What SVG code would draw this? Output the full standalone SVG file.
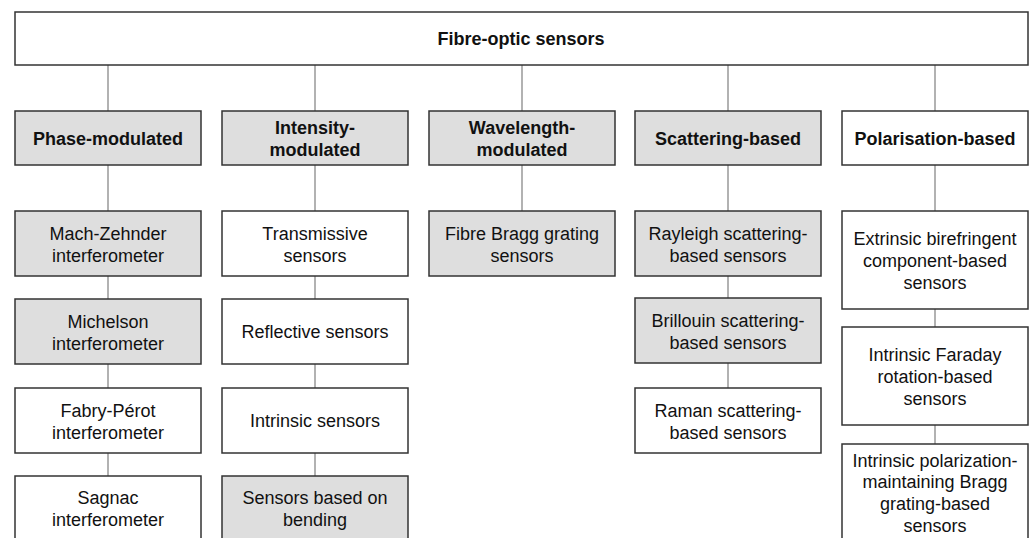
<svg xmlns="http://www.w3.org/2000/svg" width="1032" height="538" viewBox="0 0 1032 538">
<style>
.b{stroke:#333;stroke-width:1.5}
.w{fill:#fff}
.g{fill:#dedede}
.t{font-family:"Liberation Sans",Arial,sans-serif;font-size:18px;fill:#111;text-anchor:middle}
.h{font-weight:bold}
.c{stroke:#999;stroke-width:1.5;fill:none}
</style>
<rect width="1032" height="538" fill="#fff"/>
<g id="connectors">
<path class="c" d="M108 65V111M315 65V111M522 65V111M728 65V111M935 65V111"/>
<path class="c" d="M108 165V211M108 276V299M108 364V388M108 453V476"/>
<path class="c" d="M315 165V211M315 276V299M315 364V388M315 453V476"/>
<path class="c" d="M522 165V211"/>
<path class="c" d="M728 165V211M728 276V298M728 363V388"/>
<path class="c" d="M935 165V211M935 309V327M935 425V444"/>
</g>
<g id="root"><rect class="b w" x="15" y="12" width="1013" height="53"/><text class="t h" x="521" y="45">Fibre-optic sensors</text></g>
<g id="phase"><rect class="b g" x="15" y="111" width="186" height="54"/><text class="t h" x="108" y="145">Phase-modulated</text></g>
<g id="intensity"><rect class="b g" x="222" y="111" width="186" height="54"/><text class="t h" x="315" y="134">Intensity-</text><text class="t h" x="315" y="156">modulated</text></g>
<g id="wavelength"><rect class="b g" x="429" y="111" width="186" height="54"/><text class="t h" x="522" y="134">Wavelength-</text><text class="t h" x="522" y="156">modulated</text></g>
<g id="scattering"><rect class="b g" x="635" y="111" width="186" height="54"/><text class="t h" x="728" y="145">Scattering-based</text></g>
<g id="polarisation"><rect class="b w" x="842" y="111" width="186" height="54"/><text class="t h" x="935" y="145">Polarisation-based</text></g>

<g id="mach"><rect class="b g" x="15" y="211" width="186" height="65"/><text class="t" x="108" y="240">Mach-Zehnder</text><text class="t" x="108" y="262">interferometer</text></g>
<g id="michelson"><rect class="b g" x="15" y="299" width="186" height="65"/><text class="t" x="108" y="328">Michelson</text><text class="t" x="108" y="350">interferometer</text></g>
<g id="fabry"><rect class="b w" x="15" y="388" width="186" height="65"/><text class="t" x="108" y="417">Fabry-Pérot</text><text class="t" x="108" y="439">interferometer</text></g>
<g id="sagnac"><rect class="b w" x="15" y="476" width="186" height="66"/><text class="t" x="108" y="504">Sagnac</text><text class="t" x="108" y="526">interferometer</text></g>

<g id="transmissive"><rect class="b w" x="222" y="211" width="186" height="65"/><text class="t" x="315" y="240">Transmissive</text><text class="t" x="315" y="262">sensors</text></g>
<g id="reflective"><rect class="b w" x="222" y="299" width="186" height="65"/><text class="t" x="315" y="338">Reflective sensors</text></g>
<g id="intrinsic"><rect class="b w" x="222" y="388" width="186" height="65"/><text class="t" x="315" y="427">Intrinsic sensors</text></g>
<g id="bending"><rect class="b g" x="222" y="476" width="186" height="66"/><text class="t" x="315" y="504">Sensors based on</text><text class="t" x="315" y="526">bending</text></g>

<g id="fbg"><rect class="b g" x="429" y="211" width="186" height="65"/><text class="t" x="522" y="240">Fibre Bragg grating</text><text class="t" x="522" y="262">sensors</text></g>

<g id="rayleigh"><rect class="b g" x="635" y="211" width="186" height="65"/><text class="t" x="728" y="240">Rayleigh scattering-</text><text class="t" x="728" y="262">based sensors</text></g>
<g id="brillouin"><rect class="b g" x="635" y="298" width="186" height="65"/><text class="t" x="728" y="327">Brillouin scattering-</text><text class="t" x="728" y="349">based sensors</text></g>
<g id="raman"><rect class="b w" x="635" y="388" width="186" height="65"/><text class="t" x="728" y="417">Raman scattering-</text><text class="t" x="728" y="439">based sensors</text></g>

<g id="extrinsic"><rect class="b w" x="842" y="211" width="186" height="98"/><text class="t" x="935" y="245">Extrinsic birefringent</text><text class="t" x="935" y="267">component-based</text><text class="t" x="935" y="289">sensors</text></g>
<g id="faraday"><rect class="b w" x="842" y="327" width="186" height="98"/><text class="t" x="935" y="361">Intrinsic Faraday</text><text class="t" x="935" y="383">rotation-based</text><text class="t" x="935" y="405">sensors</text></g>
<g id="pmbragg"><rect class="b w" x="842" y="444" width="186" height="98"/><text class="t" x="935" y="467">Intrinsic polarization-</text><text class="t" x="935" y="488">maintaining Bragg</text><text class="t" x="935" y="510">grating-based</text><text class="t" x="935" y="532">sensors</text></g>
</svg>
